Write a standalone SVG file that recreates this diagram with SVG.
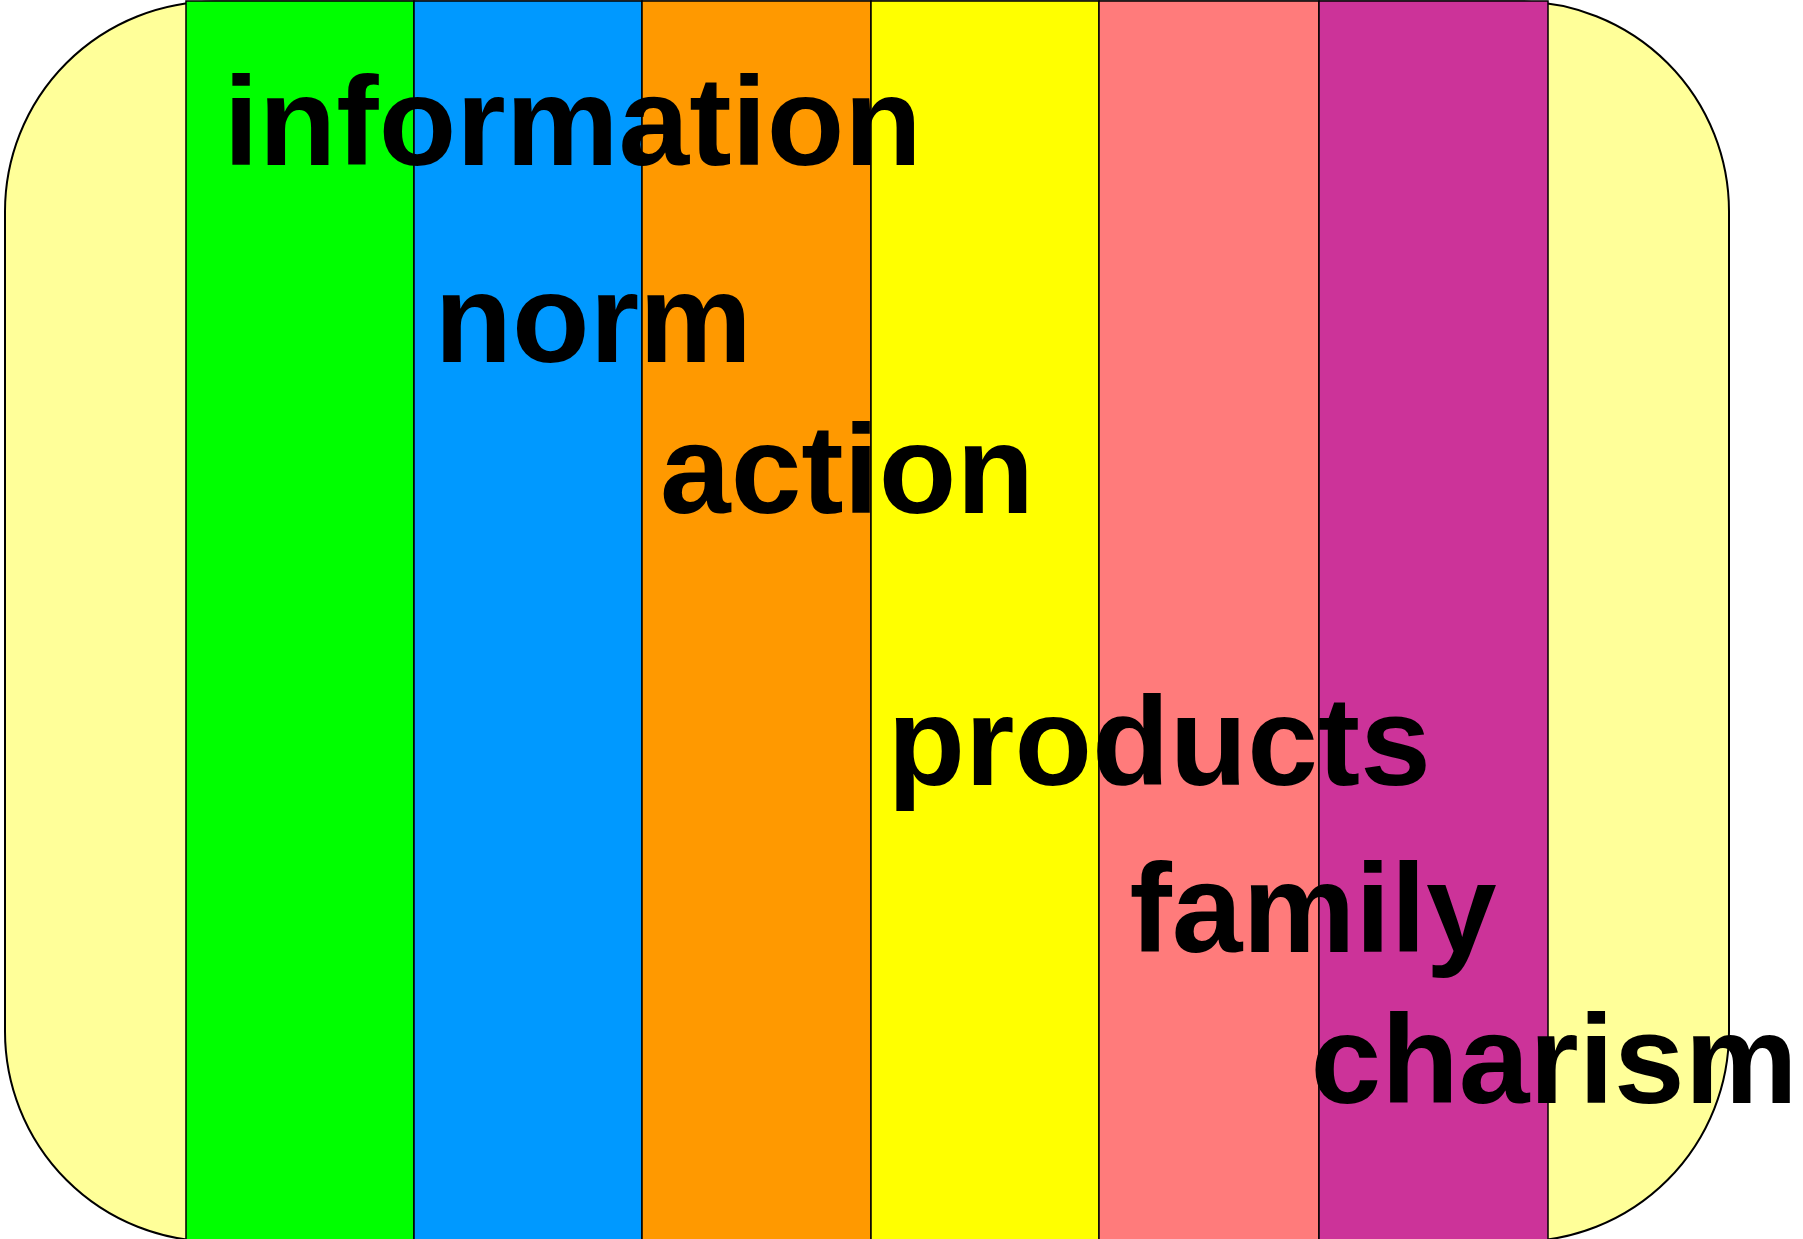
<svg xmlns="http://www.w3.org/2000/svg" width="1803" height="1239" viewBox="0 0 1803 1239">
<style>
.stripe{stroke:#000;stroke-width:1.5}
.lbl{font-family:"Liberation Sans",Arial,sans-serif;font-weight:bold;font-size:127px;fill:#000}
</style>
<rect width="1803" height="1239" fill="#fff"/>
<g id="background">
<rect x="5" y="1.5" width="1724" height="1240" rx="210" ry="210" fill="#FFFF99" stroke="#000" stroke-width="2"/>
</g>
<g id="stripes">
<rect id="s-green" class="stripe" x="186" y="1" width="228" height="1245" fill="#00FF00"/>
<rect id="s-blue" class="stripe" x="414" y="1" width="228" height="1245" fill="#0099FF"/>
<rect id="s-orange" class="stripe" x="642" y="1" width="229" height="1245" fill="#FF9900"/>
<rect id="s-yellow" class="stripe" x="871" y="1" width="228" height="1245" fill="#FFFF00"/>
<rect id="s-pink" class="stripe" x="1099" y="1" width="220" height="1245" fill="#FF7B7B"/>
<rect id="s-purple" class="stripe" x="1319" y="1" width="229" height="1245" fill="#CC3399"/>
</g>
<g id="labels">
<text id="t-information" class="lbl" x="223.5" y="165">information</text>
<text id="t-norm" class="lbl" x="434.5" y="362">norm</text>
<text id="t-action" class="lbl" x="660" y="513">action</text>
<text id="t-products" class="lbl" x="887.5" y="785">products</text>
<text id="t-family" class="lbl" x="1129.5" y="952">family</text>
<text id="t-charism" class="lbl" x="1310.5" y="1103">charism</text>
</g>
</svg>
